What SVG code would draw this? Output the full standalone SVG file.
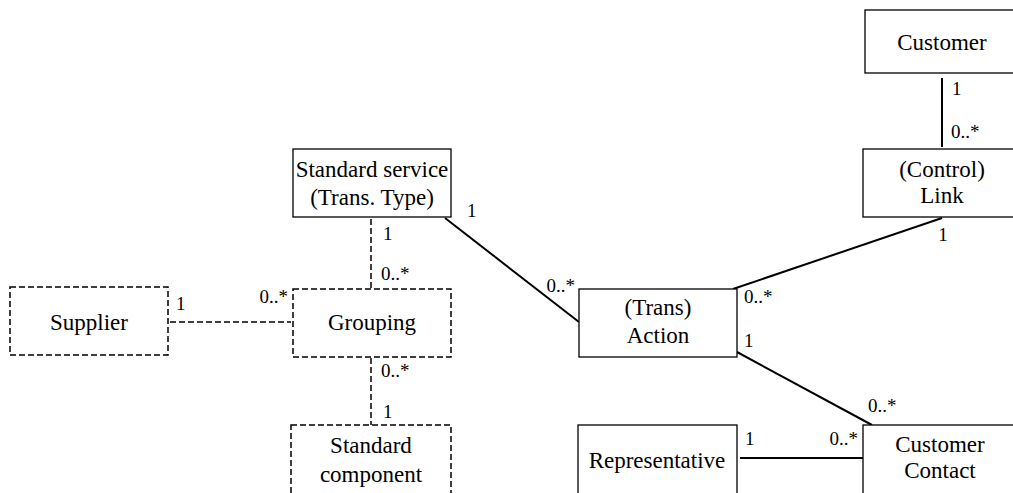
<svg xmlns="http://www.w3.org/2000/svg" width="1013" height="493" viewBox="0 0 1013 493">
<style>
.box{fill:#fff;stroke:#000;stroke-width:1.3}
.dbox{fill:#fff;stroke:#000;stroke-width:1.5;stroke-dasharray:6 3}
.ln{stroke:#000;stroke-width:2;fill:none}
.dl{stroke:#000;stroke-width:1.5;fill:none;stroke-dasharray:6 3}
</style>
<rect width="1013" height="493" fill="#fff"/>
<g id="connectors">
<line class="ln" x1="942" y1="78" x2="942" y2="147"/>
<line class="ln" x1="942" y1="218" x2="733" y2="289"/>
<line class="ln" x1="445" y1="218" x2="579" y2="322"/>
<line class="ln" x1="737" y1="352" x2="872" y2="425"/>
<line class="ln" x1="740" y1="458" x2="863" y2="458"/>
<line class="dl" x1="371" y1="219" x2="371" y2="289"/>
<line class="dl" x1="170" y1="322" x2="291" y2="322"/>
<line class="dl" x1="371" y1="358" x2="371" y2="425"/>
<text font-family="'Liberation Serif', serif" font-size="19" x="952" y="95">1</text>
<text font-family="'Liberation Serif', serif" font-size="19" x="951" y="138">0..*</text>
<text font-family="'Liberation Serif', serif" font-size="19" x="943" y="241" text-anchor="middle">1</text>
<text font-family="'Liberation Serif', serif" font-size="19" x="744" y="303">0..*</text>
<text font-family="'Liberation Serif', serif" font-size="19" x="744" y="347">1</text>
<text font-family="'Liberation Serif', serif" font-size="19" x="467" y="217">1</text>
<text font-family="'Liberation Serif', serif" font-size="19" x="575" y="292" text-anchor="end">0..*</text>
<text font-family="'Liberation Serif', serif" font-size="19" x="383" y="240">1</text>
<text font-family="'Liberation Serif', serif" font-size="19" x="381" y="280">0..*</text>
<text font-family="'Liberation Serif', serif" font-size="19" x="176" y="310">1</text>
<text font-family="'Liberation Serif', serif" font-size="19" x="288" y="303" text-anchor="end">0..*</text>
<text font-family="'Liberation Serif', serif" font-size="19" x="381" y="377">0..*</text>
<text font-family="'Liberation Serif', serif" font-size="19" x="383" y="418">1</text>
<text font-family="'Liberation Serif', serif" font-size="19" x="868" y="412">0..*</text>
<text font-family="'Liberation Serif', serif" font-size="19" x="745" y="445">1</text>
<text font-family="'Liberation Serif', serif" font-size="19" x="858" y="445" text-anchor="end">0..*</text>
</g>
<g id="customer"><rect class="box" x="865" y="10" width="150" height="63"/><text font-family="'Liberation Serif', serif" font-size="23" text-anchor="middle" x="942" y="50">Customer</text></g>
<g id="link"><rect class="box" x="863" y="149" width="152" height="68"/><text font-family="'Liberation Serif', serif" font-size="23" text-anchor="middle" x="942" y="177">(Control)</text><text font-family="'Liberation Serif', serif" font-size="23" text-anchor="middle" x="942" y="203">Link</text></g>
<g id="standard-service"><rect class="box" x="293" y="149" width="158" height="68"/><text font-family="'Liberation Serif', serif" font-size="23" text-anchor="middle" x="372" y="177">Standard service</text><text font-family="'Liberation Serif', serif" font-size="23" text-anchor="middle" x="372" y="205">(Trans. Type)</text></g>
<g id="supplier"><rect class="dbox" x="10" y="287" width="158" height="68"/><text font-family="'Liberation Serif', serif" font-size="23" text-anchor="middle" x="89" y="330">Supplier</text></g>
<g id="grouping"><rect class="dbox" x="293" y="289" width="158" height="68"/><text font-family="'Liberation Serif', serif" font-size="23" text-anchor="middle" x="372" y="330">Grouping</text></g>
<g id="standard-component"><rect class="dbox" x="291" y="425" width="160" height="72"/><text font-family="'Liberation Serif', serif" font-size="23" text-anchor="middle" x="371" y="453">Standard</text><text font-family="'Liberation Serif', serif" font-size="23" text-anchor="middle" x="371" y="482">component</text></g>
<g id="action"><rect class="box" x="579" y="289" width="158" height="68"/><text font-family="'Liberation Serif', serif" font-size="23" text-anchor="middle" x="658" y="315">(Trans)</text><text font-family="'Liberation Serif', serif" font-size="23" text-anchor="middle" x="658" y="343">Action</text></g>
<g id="representative"><rect class="box" x="578" y="425" width="159" height="72"/><text font-family="'Liberation Serif', serif" font-size="23" text-anchor="middle" x="657" y="468">Representative</text></g>
<g id="customer-contact"><rect class="box" x="863" y="425" width="152" height="72"/><text font-family="'Liberation Serif', serif" font-size="23" text-anchor="middle" x="940" y="452">Customer</text><text font-family="'Liberation Serif', serif" font-size="23" text-anchor="middle" x="940" y="478">Contact</text></g>
</svg>
